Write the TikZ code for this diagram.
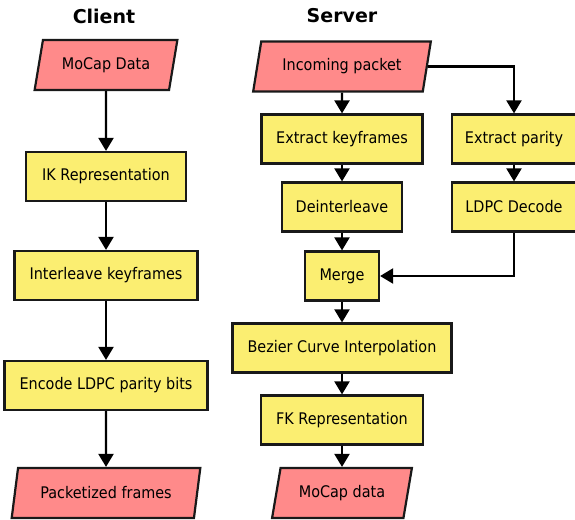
\documentclass[tikz,border=0pt]{standalone}
\usepackage{fontspec}
\setmainfont{DejaVu Sans}
\newfontfamily\boxfont{DejaVu Sans}[FakeStretch=0.9]
\usetikzlibrary{shapes.geometric,arrows.meta}
\definecolor{procyellow}{RGB}{251,238,113}
\definecolor{iored}{RGB}{255,138,138}
\tikzset{
  proc/.style={draw=black!90, line width=2.2pt, fill=procyellow, minimum height=49pt,
    minimum width=#1, inner sep=0pt, font=\boxfont\fontsize{16}{18}\selectfont},
  io/.style={draw=black!90, line width=2.2pt, fill=iored, trapezium, trapezium left angle=69,
    trapezium right angle=111, trapezium stretches=true, minimum height=50pt,
    minimum width=#1, inner sep=0pt, font=\boxfont\fontsize{16}{18}\selectfont},
  flow/.style={-{Triangle[width=15pt,length=13pt]}, line width=2.2pt},
  title/.style={font=\bfseries\fontsize{19}{21}\selectfont}
}
\begin{document}
\begin{tikzpicture}[x=1pt,y=-1pt]
    \useasboundingbox (0,0) rectangle (575,519);

    % Titles
    \node[title] (clienttitle) at (104,16) {Client};
    \node[title] (servertitle) at (342,16) {Server};

    % Client
    \node[io=143pt]   (mocapin)  at (106,65)    {MoCap Data};
    \node[proc=160pt] (ik)       at (106,176.5) {IK Representation};
    \node[proc=183pt] (inter)    at (106,275.5) {Interleave keyframes};
    \node[proc=203pt] (encode)   at (106,385.5) {Encode LDPC parity bits};
    \node[io=189pt]   (packets)  at (106,493)   {Packetized frames};

    \draw[flow] (mocapin) -- (ik);
    \draw[flow] (ik) -- (inter);
    \draw[flow] (inter) -- (encode);
    \draw[flow] (encode) -- (packets);

    % Server
    \node[io=178pt]   (incoming) at (342,66.5)  {Incoming packet};
    \node[proc=161pt] (extkey)   at (342,139)   {Extract keyframes};
    \node[proc=124pt] (extpar)   at (514,139)   {Extract parity};
    \node[proc=120pt] (deint)    at (342,207)   {Deinterleave};
    \node[proc=124pt] (ldpc)     at (514,207)   {LDPC Decode};
    \node[proc=74pt]  (merge)    at (342,276)   {Merge};
    \node[proc=219pt] (bezier)   at (342,348)   {Bezier Curve Interpolation};
    \node[proc=162pt] (fk)       at (342,420)   {FK Representation};
    \node[io=141pt]   (mocapout) at (342,493)   {MoCap data};

    \draw[flow] (incoming) -- (extkey);
    \draw[flow] (incoming.east) -| (extpar);
    \draw[flow] (extkey) -- (deint);
    \draw[flow] (extpar) -- (ldpc);
    \draw[flow] (deint) -- (merge);
    \draw[flow] (ldpc) |- (merge);
    \draw[flow] (merge) -- (bezier);
    \draw[flow] (bezier) -- (fk);
    \draw[flow] (fk) -- (mocapout);
\end{tikzpicture}
\end{document}
